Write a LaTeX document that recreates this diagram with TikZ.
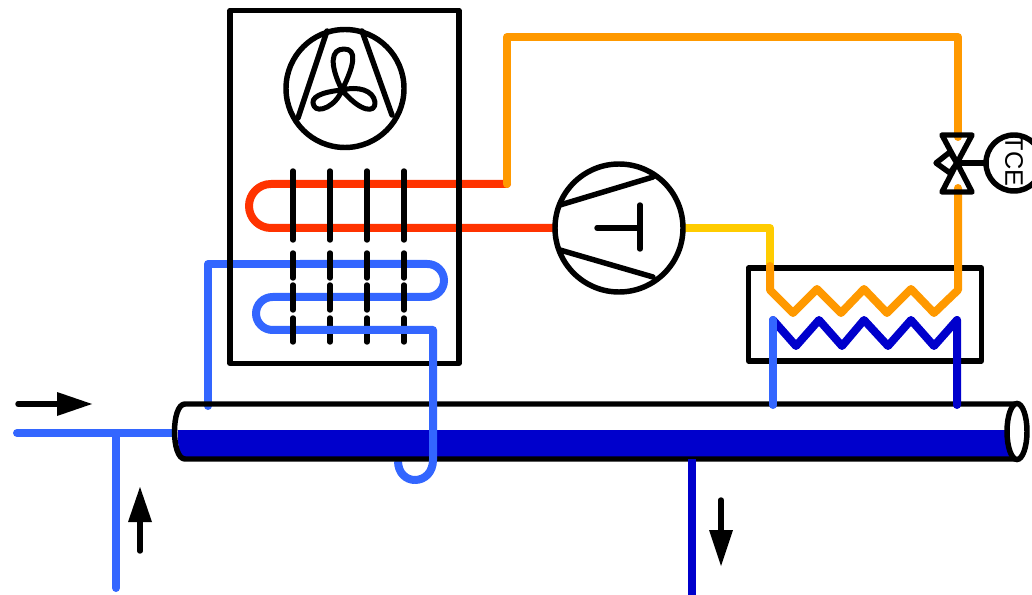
\documentclass[tikz,border=0pt]{standalone}
\usepackage{fontspec}
\usetikzlibrary{shapes.geometric}
\setmainfont{Liberation Sans}
\definecolor{hotred}{HTML}{FF3300}
\definecolor{warmorange}{HTML}{FF9900}
\definecolor{warmyellow}{HTML}{FFCC00}
\definecolor{coldblue}{HTML}{3366FF}
\definecolor{deepblue}{HTML}{0000CC}
\tikzset{
  pipe/.style={line width=6pt,line cap=round,line join=round},
  blk/.style={draw=black,line width=4.1pt,line cap=round,line join=round},
  thinblk/.style={draw=black,line width=3.75pt,line cap=round,line join=round},
  roundvessel/.style={circle,draw=black,line width=4.1pt,inner sep=0pt,fill=white},
  boxvessel/.style={rectangle,draw=black,line width=4.1pt,inner sep=0pt,line join=round},
  head/.style={fill=black,draw=none},
  ubend/.style={rounded corners=16.5pt},
  ubendsmall/.style={rounded corners=12.4pt}
}
\begin{document}
\begin{tikzpicture}[x=0.75pt,y=-0.75pt]
\useasboundingbox (0,0) rectangle (1032,595);
% named points
\coordinate (tee) at (116,433);
\coordinate (inA) at (17,433);
\coordinate (inB) at (116,588);
\coordinate (tankL) at (172,433);
\coordinate (hx1) at (507,184);
% feed pipe runs under the receiver outline
\draw[pipe,coldblue] (inA) -- (tankL);
% condenser pipes (below the unit frame)
\draw[pipe,hotred,ubend] (hx1) -- (249,184) -- (249,228) -- (555,228);
\draw[pipe,coldblue] (208,406) -- (208,264) -- (300,264);
\draw[pipe,coldblue,ubendsmall] (300,264) -- (444,264) -- (444,297) -- (256,297) -- (256,330) -- (300,330);
% unit frame
\node[boxvessel,minimum width=171.75pt,minimum height=264.75pt] (unit) at (344.5,187) {};
% fins
\foreach \x in {293,330,367,404}{
  \draw[blk] (\x,171) -- (\x,240);
  \draw[blk] (\x,253) -- (\x,278);
  \draw[blk] (\x,285) -- (\x,310);
  \draw[blk] (\x,318) -- (\x,342);
}
% fan
\node[roundvessel,minimum size=88.5pt] (fan) at (345,88.5) {};
\draw[blk] (327,31) -- (298,118);
\draw[blk] (362,31) -- (392,115);
\draw[thinblk] (342,90) .. controls (329,64) and (331,49) .. (344,49)
  .. controls (357,49) and (355,64) .. (342,90)
  .. controls (358,86) and (373,90) .. (375,102)
  .. controls (376,114) and (360,112) .. (342,90)
  .. controls (336,106) and (318,114) .. (314,106)
  .. controls (309,97) and (322,92) .. (342,90) -- cycle;
% receiver
\fill[deepblue] (178,430) -- (1017,430) -- (1017,459) -- (185,459) .. controls (180,459) and (177,445) .. (178,430) -- cycle;
\draw[coldblue,pipe,line cap=butt] (398,461) .. controls (398,473) and (406,480) .. (415,480);
\draw[blk] (1017,404) -- (185,404) .. controls (171,404) and (171,459) .. (185,459) -- (1017,459);
\node[ellipse,draw=black,fill=white,line width=4.1pt,minimum width=15pt,minimum height=42pt,inner sep=0pt] (tankend) at (1017,431.5) {};
% feed pipes
\draw[pipe,coldblue] (tee) -- (inB);
\draw[pipe,coldblue,line cap=round] (415,480) .. controls (425,480) and (433,472) .. (433,460) -- (433,330) -- (300,330);
\draw[pipe,deepblue,line cap=butt] (692,459) -- (692,595);
% arrows
\draw[blk] (18,404) -- (60,404);
\fill[head] (57,392) -- (92,404) -- (57,416) -- cycle;
\draw[blk] (140,551) -- (140,520);
\fill[head] (128,522) -- (140,487) -- (152,522) -- cycle;
\draw[blk] (721,500) -- (721,532);
\fill[head] (709,530) -- (721,566) -- (733,530) -- cycle;
% evaporator/exchanger
\node[boxvessel,minimum width=174.75pt,minimum height=69.75pt] (hx) at (865,314.5) {};
\draw[pipe,warmyellow] (685,228) -- (770,228) -- (770,264);
\draw[pipe,warmorange] (770,266) -- (770,290) -- (793,313) -- (817,289) -- (841,313) -- (864,289) -- (887,313) -- (911,289) -- (934,313) -- (958,290) -- (958,188);
\draw[pipe,warmorange] (958,137) -- (958,37) -- (507,37) -- (hx1);
\draw[pipe,deepblue] (773,320) -- (796,346) -- (819,320) -- (842,346) -- (864,320) -- (888,346) -- (911,320) -- (934,346) -- (957,320) -- (957,405);
\draw[pipe,coldblue] (773,320) -- (773,405);
% compressor
\node[roundvessel,minimum size=96pt] (comp) at (619,228) {};
\draw[blk] (560,205) -- (653,177);
\draw[blk] (560,250) -- (653,277);
\draw[blk] (597,228) -- (640,228);
\draw[blk] (640,205) -- (640,249);
% valve
\node[roundvessel,minimum size=42pt] (tce) at (1014,163) {};
\node[rotate=-90,font=\fontsize{19}{19}\selectfont,inner sep=0pt] (tcelabel) at (1014,161) {TCE};
\draw[blk] (957,163) -- (tce);
\draw[blk] (957,163) -- (942,135) -- (972,135) -- (957,163) -- (942,192) -- (972,192) -- cycle;
\draw[blk] (957,163) -- (950,152) -- (936,163) -- (950,173) -- cycle;
\end{tikzpicture}
\end{document}
